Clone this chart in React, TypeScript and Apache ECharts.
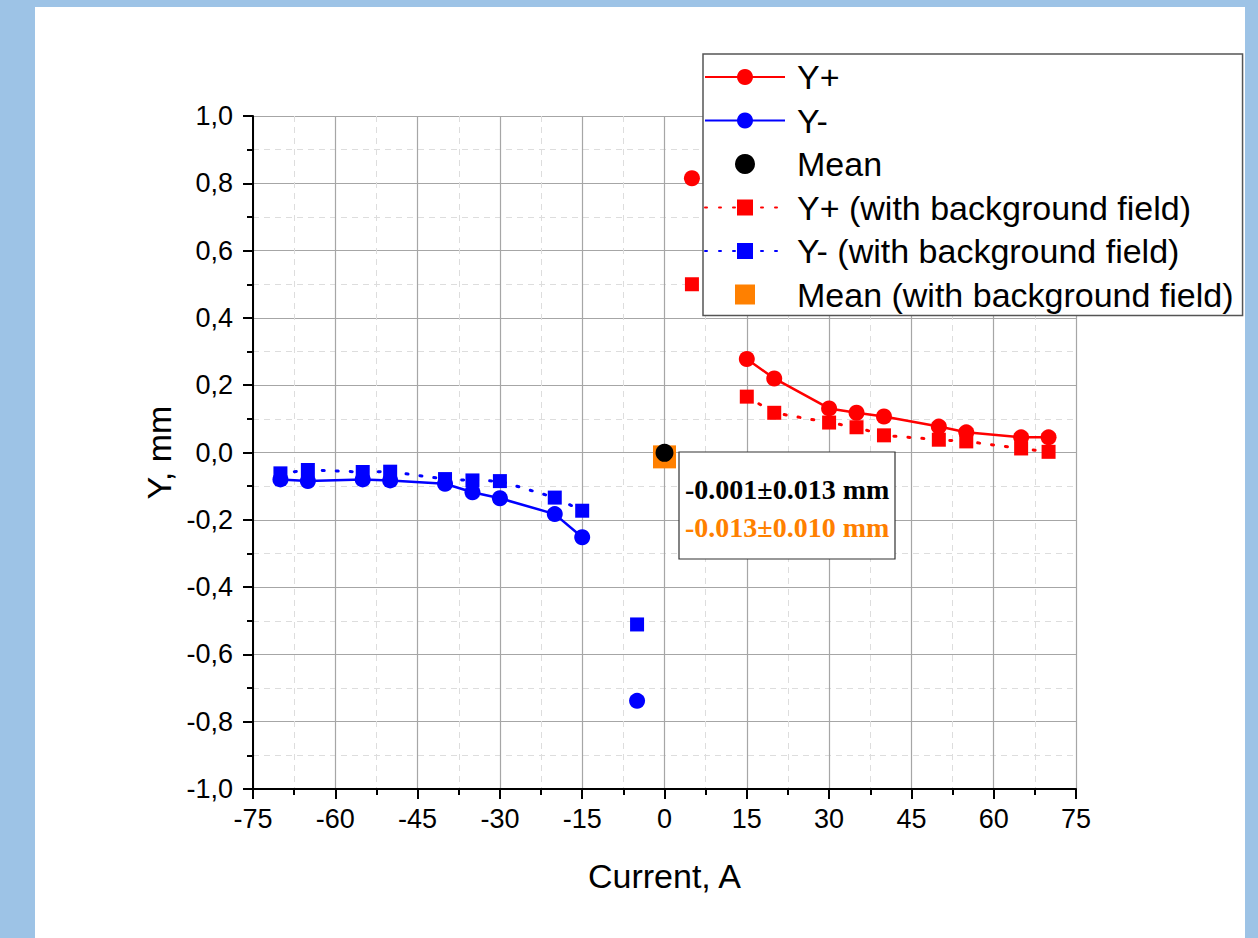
import React, { useEffect, useRef } from "react";
import * as echarts from "echarts";

// ---- data ----
const yPlusCurrent = [5, 15, 20, 30, 35, 40, 50, 55, 65, 70];
const yPlusValue = [0.815, 0.278, 0.22, 0.131, 0.118, 0.107, 0.077, 0.06, 0.045, 0.045];

const yMinusCurrent = [-70, -65, -55, -50, -40, -35, -30, -20, -15, -5];
const yMinusValue = [-0.08, -0.085, -0.08, -0.083, -0.093, -0.118, -0.136, -0.183, -0.252, -0.738];

const yPlusBgCurrent = [5, 15, 20, 30, 35, 40, 50, 55, 65, 70];
const yPlusBgValue = [0.5, 0.166, 0.118, 0.089, 0.075, 0.051, 0.038, 0.033, 0.012, 0.002];

const yMinusBgCurrent = [-70, -65, -55, -50, -40, -35, -30, -20, -15, -5];
const yMinusBgValue = [-0.062, -0.052, -0.058, -0.057, -0.079, -0.083, -0.085, -0.134, -0.173, -0.511];

const meanCurrent = [0];
const meanValue = [-0.001];
const meanBgCurrent = [0];
const meanBgValue = [-0.013];

const annotationLines = ["-0.001±0.013 mm", "-0.013±0.010 mm"];
const seriesNames = [
  "Y+",
  "Y-",
  "Mean",
  "Y+ (with background field)",
  "Y- (with background field)",
  "Mean (with background field)",
];

const RED = "#ff0000";
const BLUE = "#0000ff";
const ORANGE = "#ff8000";
const SANS = "'Liberation Sans', Arial, sans-serif";
const SERIF = "'Liberation Serif', 'Times New Roman', serif";
const SQUARE_ICON = "path://M0,0H10V10H0Z";

function pairs(xs: number[], ys: number[], keep: (x: number) => boolean) {
  const out: number[][] = [];
  xs.forEach((x, i) => {
    if (keep(x)) out.push([x, ys[i]]);
  });
  return out;
}
const connected = (x: number) => Math.abs(x) >= 10;
const isolated = (x: number) => Math.abs(x) < 10;

const fmt = (v: number) => v.toFixed(1).replace(".", ",");

export default function App() {
  const ref = useRef<HTMLDivElement>(null);
  useEffect(() => {
    if (!ref.current) return;
    const chart = echarts.init(ref.current, undefined, { renderer: "svg" });

    const lineSeries = (
      name: string,
      xs: number[],
      ys: number[],
      color: string,
      symbol: string,
      size: number,
      dotted: boolean
    ) => [
      {
        name,
        type: "line",
        data: pairs(xs, ys, connected),
        symbol,
        symbolSize: size,
        itemStyle: { color, opacity: 1 },
        lineStyle: dotted
          ? { color, width: 3, type: [2, 12], cap: "round" }
          : { color, width: 2.5, type: "solid" },
        z: dotted ? 2 : 3,
      },
      {
        name,
        type: "scatter",
        data: pairs(xs, ys, isolated),
        symbol,
        symbolSize: size,
        itemStyle: { color, opacity: 1 },
        z: dotted ? 2 : 3,
      },
    ];

    const option: any = {
      animation: false,
      backgroundColor: "#9dc3e6",
      graphic: [
        {
          type: "rect",
          shape: { x: 35, y: 7, width: 1210, height: 940 },
          style: { fill: "#ffffff" },
          z: -10,
          silent: true,
        },
        {
          type: "rect",
          shape: { x: 679, y: 452, width: 216, height: 107 },
          style: { fill: "#ffffff", stroke: "#333333", lineWidth: 1.2 },
          z: 100,
        },
        {
          type: "text",
          x: 685,
          y: 489,
          z: 101,
          style: {
            text: annotationLines[0],
            fill: "#000000",
            font: `bold 28px ${SERIF}`,
            textVerticalAlign: "middle",
          },
        },
        {
          type: "text",
          x: 685,
          y: 527,
          z: 101,
          style: {
            text: annotationLines[1],
            fill: ORANGE,
            font: `bold 28px ${SERIF}`,
            textVerticalAlign: "middle",
          },
        },
      ],
      grid: { left: 253, top: 116, width: 823, height: 673, containLabel: false },
      legend: {
        orient: "vertical",
        left: 703,
        top: 54,
        data: seriesNames.map((n, i) =>
          i === 5 ? { name: n, icon: SQUARE_ICON } : { name: n }
        ),
        itemWidth: 80,
        itemHeight: 20,
        itemGap: 9.5,
        padding: [6, 9, 4, 1],
        symbolKeepAspect: true,
        backgroundColor: "#ffffff",
        borderColor: "#555555",
        borderWidth: 1.5,
        textStyle: {
          fontSize: 34,
          lineHeight: 34,
          fontFamily: SANS,
          color: "#000000",
          padding: [0, 0, 0, 7],
        },
        z: 50,
      },
      xAxis: {
        type: "value",
        min: -75,
        max: 75,
        interval: 15,
        name: "Current, A",
        nameLocation: "middle",
        nameGap: 70,
        nameTextStyle: { fontSize: 34, fontFamily: SANS, color: "#000" },
        axisLine: { show: true, onZero: false, lineStyle: { color: "#000", width: 2 } },
        axisTick: { show: true, inside: false, length: 10, lineStyle: { color: "#000", width: 2 } },
        minorTick: { show: true, splitNumber: 2, length: 6, lineStyle: { color: "#000", width: 2 } },
        axisLabel: { fontSize: 27, fontFamily: SANS, color: "#000", margin: 16 },
        splitLine: { show: true, lineStyle: { color: "#a6a6a6", width: 1.2 } },
        minorSplitLine: { show: true, lineStyle: { color: "#dddddd", width: 1, type: [6, 5] } },
      },
      yAxis: {
        type: "value",
        min: -1,
        max: 1,
        interval: 0.2,
        name: "Y, mm",
        nameLocation: "middle",
        nameGap: 46,
        nameRotate: 90,
        nameTextStyle: { fontSize: 34, fontFamily: SANS, color: "#000" },
        axisLine: { show: true, onZero: false, lineStyle: { color: "#000", width: 2 } },
        axisTick: { show: true, inside: false, length: 10, lineStyle: { color: "#000", width: 2 } },
        minorTick: { show: true, splitNumber: 2, length: 6, lineStyle: { color: "#000", width: 2 } },
        axisLabel: {
          fontSize: 27,
          fontFamily: SANS,
          color: "#000",
          margin: 20,
          formatter: (v: number) => fmt(v),
        },
        splitLine: { show: true, lineStyle: { color: "#a6a6a6", width: 1.2 } },
        minorSplitLine: { show: true, lineStyle: { color: "#dddddd", width: 1, type: [6, 5] } },
      },
      series: [
        ...lineSeries(seriesNames[0], yPlusCurrent, yPlusValue, RED, "circle", 16, false),
        ...lineSeries(seriesNames[1], yMinusCurrent, yMinusValue, BLUE, "circle", 16, false),
        ...lineSeries(seriesNames[3], yPlusBgCurrent, yPlusBgValue, RED, "rect", 14, true),
        ...lineSeries(seriesNames[4], yMinusBgCurrent, yMinusBgValue, BLUE, "rect", 14, true),
        {
          name: seriesNames[5],
          type: "scatter",
          data: pairs(meanBgCurrent, meanBgValue, () => true),
          symbol: "rect",
          symbolSize: 23,
          itemStyle: { color: ORANGE, opacity: 1 },
          z: 4,
        },
        {
          name: seriesNames[2],
          type: "scatter",
          data: pairs(meanCurrent, meanValue, () => true),
          symbol: "circle",
          symbolSize: 18,
          itemStyle: { color: "#000000", opacity: 1 },
          z: 5,
        },
      ],
    };
    chart.setOption(option);
    return () => chart.dispose();
  }, []);

  return (
    <div style={{ position: "fixed", left: 0, top: 0, width: 1258, height: 938, background: "#9dc3e6" }}>
      <div ref={ref} style={{ width: 1258, height: 938 }} />
    </div>
  );
}
